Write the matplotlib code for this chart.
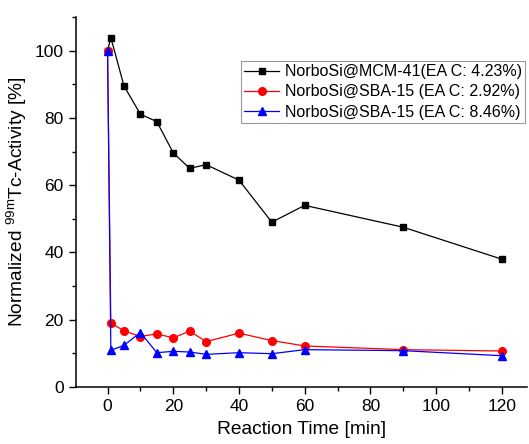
import matplotlib.pyplot as plt
from matplotlib.ticker import MultipleLocator

plt.rcParams['font.family'] = ['Liberation Sans', 'DejaVu Sans']
plt.rcParams['mathtext.fontset'] = 'custom'
plt.rcParams['mathtext.rm'] = 'Liberation Sans'
plt.rcParams['mathtext.it'] = 'Liberation Sans'

# tiempos de reaccion (min)
t_mcm = [0, 1, 5, 10, 15, 20, 25, 30, 40, 50, 60, 90, 120]
mcm41 = [100, 103.9, 89.5, 81.1, 78.9, 69.6, 65.0, 66.1, 61.5, 49.0, 54.0, 47.5, 38.0]

t_sba = [0, 1, 5, 10, 15, 20, 25, 30, 40, 50, 60, 90, 120]
sba_292 = [100, 19.0, 16.7, 15.0, 15.8, 14.6, 16.6, 13.5, 16.0, 13.8, 12.2, 11.1, 10.7]
sba_846 = [100, 10.9, 12.4, 16.2, 10.2, 10.6, 10.4, 9.7, 10.2, 9.9, 11.1, 10.8, 9.3]

etiquetas = ["NorboSi@MCM-41(EA C: 4.23%)",
             "NorboSi@SBA-15 (EA C: 2.92%)",
             "NorboSi@SBA-15 (EA C: 8.46%)"]

fig = plt.figure(figsize=(5.29, 4.44), dpi=100)
ax = fig.add_axes([0.1437, 0.1284, 0.8527, 0.8333])

ax.plot(t_mcm, mcm41, color='black', marker='s', markersize=5, lw=0.9, label=etiquetas[0])
ax.plot(t_sba, sba_292, color='red', marker='o', markersize=5.5, lw=0.9, label=etiquetas[1])
ax.plot(t_sba, sba_846, color='blue', marker='^', markersize=6, lw=0.9, label=etiquetas[2])

ax.set_xlim(-9.6, 127.7)
ax.set_ylim(0, 110)
ax.xaxis.set_major_locator(MultipleLocator(20))
ax.xaxis.set_minor_locator(MultipleLocator(10))
ax.yaxis.set_major_locator(MultipleLocator(20))
ax.yaxis.set_minor_locator(MultipleLocator(10))
ax.tick_params(which='major', direction='out', length=5, width=1, labelsize=12.5, pad=4)
ax.tick_params(which='minor', direction='out', length=3, width=1)

for s in ['top', 'right']:
    ax.spines[s].set_visible(False)
for s in ['left', 'bottom']:
    ax.spines[s].set_linewidth(1.1)

ax.set_xlabel("Reaction Time [min]", fontsize=13.8, labelpad=5)
ax.set_ylabel(r"Normalized $^{99m}$Tc-Activity [%]", fontsize=13.8, labelpad=4)

leg = ax.legend(loc='upper left', bbox_to_anchor=(241 / 529, 1 - 61 / 444),
                bbox_transform=fig.transFigure, fontsize=11.5, frameon=True,
                fancybox=False, edgecolor='gray', borderaxespad=0,
                handlelength=2.2, handletextpad=0.35, labelspacing=0.33,
                borderpad=0.2)
leg.get_frame().set_linewidth(0.8)

fig.savefig('out.png', dpi=100)
